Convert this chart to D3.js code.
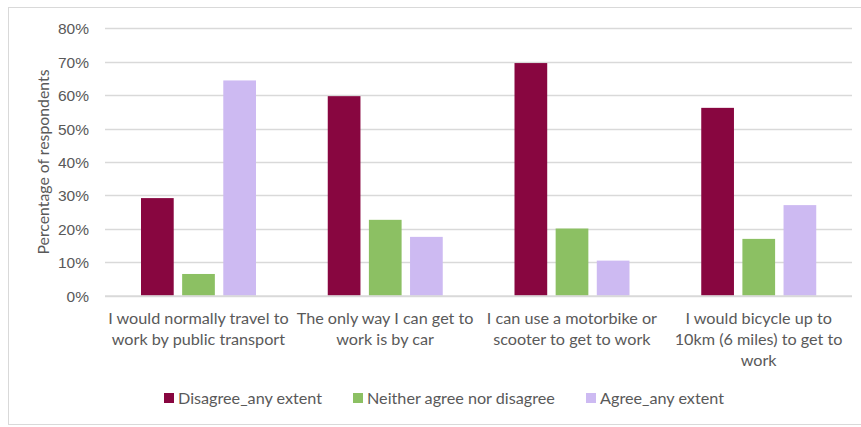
<!DOCTYPE html>
<html><head><meta charset="utf-8">
<script src="https://cdn.jsdelivr.net/npm/d3@7"></script>
<style>
body{margin:0;background:#fff;}
svg{display:block;font-family:Lato, "Open Sans", sans-serif;}
</style></head>
<body><svg id="c" width="861" height="427"></svg>
<script>
const categories = [
  ["I would normally travel to","work by public transport"],
  ["The only way I can get to","work is by car"],
  ["I can use a motorbike or","scooter to get to work"],
  ["I would bicycle up to","10km (6 miles) to get to","work"]
];
const seriesNames = ["Disagree_any extent","Neither agree nor disagree","Agree_any extent"];
const disagree = [29.2, 59.7, 69.6, 56.2];
const neither = [6.5, 22.7, 20.1, 17.0];
const agree = [64.4, 17.6, 10.5, 27.1];
const yTicks = [0,10,20,30,40,50,60,70,80];
const colors = ["#880640","#8cc063","#cdbaf2"];

const svg = d3.select("#c");
const textColor = "#595959";
// chart border
svg.append("rect").attr("x",8.5).attr("y",7.5).attr("width",870).attr("height",417)
  .attr("fill","none").attr("stroke","#d9d9d9");

const x0 = d3.scaleBand().domain(d3.range(categories.length)).range([105,852]).padding(0);
const x1 = d3.scaleBand().domain(d3.range(3)).range([36,151]).paddingInner(0.205).paddingOuter(0);
const y = d3.scaleLinear().domain([0,80]).range([295.7,28.3]);

const yAxis = d3.axisLeft(y).tickValues(yTicks).tickFormat(d=>d+"%").tickSize(0).tickPadding(16);
const gy = svg.append("g").attr("transform","translate(105,0)").call(yAxis);
gy.select(".domain").remove();
gy.selectAll("text").attr("fill",textColor).attr("font-size",15.5).attr("dy","0.35em");
svg.append("g").selectAll("line").data(yTicks.filter(d=>d>0)).join("line")
  .attr("x1",105).attr("x2",852).attr("y1",d=>Math.round(y(d))+0.5).attr("y2",d=>Math.round(y(d))+0.5)
  .attr("stroke","#d9d9d9").attr("stroke-width",1.3);

const series = [disagree, neither, agree];
const groups = svg.append("g").selectAll("g").data(categories).join("g")
  .attr("transform",(d,i)=>`translate(${x0(i)},0)`);
groups.selectAll("rect").data((d,i)=>series.map((s,j)=>({j, v:s[i]}))).join("rect")
  .attr("x",d=>x1(d.j)).attr("width",x1.bandwidth())
  .attr("y",d=>y(d.v)).attr("height",d=>y(0)-y(d.v))
  .attr("fill",d=>colors[d.j]);

svg.append("line").attr("x1",105).attr("x2",852).attr("y1",y(0)+0.5).attr("y2",y(0)+0.5)
  .attr("stroke","#d9d9d9").attr("stroke-width",2);

const xAxis = d3.axisBottom(x0).tickSize(0).tickFormat("");
svg.append("g").attr("transform",`translate(0,${y(0)})`).call(xAxis).select(".domain").remove();
categories.forEach((lines,i)=>{
  const cx = x0(i)+x0.bandwidth()/2;
  const t = svg.append("text").attr("x",cx).attr("y",323.5)
    .attr("text-anchor","middle").attr("fill",textColor).attr("font-size",16.2);
  lines.forEach((l,k)=>t.append("tspan").attr("x",cx).attr("dy",k?21:0).text(l));
});

svg.append("text").attr("transform","translate(49,162) rotate(-90)")
  .attr("text-anchor","middle").attr("fill",textColor).attr("font-size",15.8).text("Percentage of respondents");

const legX = [164, 353, 586];
const leg = svg.append("g").selectAll("g").data(seriesNames).join("g")
  .attr("transform",(d,i)=>`translate(${legX[i]},393)`);
leg.append("rect").attr("width",10).attr("height",10).attr("fill",(d,i)=>colors[i]);
leg.append("text").attr("x",14).attr("y",5).attr("dy","0.35em").attr("fill",textColor)
  .attr("font-size",16.2).text(d=>d);
</script></body></html>
